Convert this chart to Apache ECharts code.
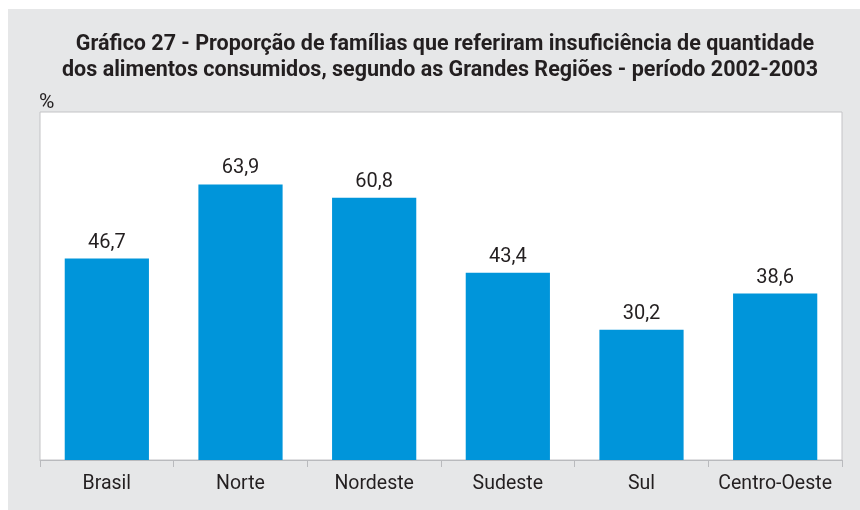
<!DOCTYPE html>
<html>
<head>
<meta charset="utf-8">
<script src="https://cdn.jsdelivr.net/npm/echarts@6/dist/echarts.min.js"></script>
<style>
html,body{margin:0;padding:0;background:#ffffff;}
#chart{width:860px;height:510px;}
</style>
</head>
<body>
<div id="chart"></div>
<script>
var titleLines = [
  'Gráfico 27 - Proporção de famílias que referiram insuficiência de quantidade',
  'dos alimentos consumidos, segundo as Grandes Regiões - período 2002-2003'
];
var unitLabel = '%';
var categories = ['Brasil', 'Norte', 'Nordeste', 'Sudeste', 'Sul', 'Centro-Oeste'];
var values = [46.7, 63.9, 60.8, 43.4, 30.2, 38.6];

var chart = echarts.init(document.getElementById('chart'), null, {renderer: 'canvas'});
var font = 'Roboto, "Liberation Sans", Arial, sans-serif';
chart.setOption({
  animation: false,
  backgroundColor: '#ffffff',
  graphic: [
    {type: 'rect', left: 8, top: 9, shape: {width: 852, height: 501}, style: {fill: '#e6e7e8'}, z: -10, silent: true},
    {type: 'text', x: 445, y: 44.5, style: {text: titleLines[0], font: 'bold 21.5px ' + font, fill: '#231f20', align: 'center', verticalAlign: 'middle'}},
    {type: 'text', x: 440, y: 70.5, style: {text: titleLines[1], font: 'bold 21.5px ' + font, fill: '#231f20', align: 'center', verticalAlign: 'middle'}},
    {type: 'text', x: 39, y: 103, style: {text: unitLabel, font: '21px ' + font, fill: '#231f20', verticalAlign: 'middle'}}
  ],
  grid: {left: 40, right: 18, top: 112, bottom: 50, show: true, backgroundColor: '#ffffff', borderColor: '#c3c3c6', borderWidth: 1},
  xAxis: {
    type: 'category',
    data: categories,
    axisLine: {show: true, lineStyle: {color: '#b9babd', width: 1}},
    axisTick: {show: true, interval: 0, length: 7, lineStyle: {color: '#b9babd'}},
    axisLabel: {interval: 0, hideOverlap: false, color: '#231f20', fontSize: 19.5, fontFamily: font, margin: 14}
  },
  yAxis: {
    type: 'value', min: 0, max: 80.7, show: false, splitLine: {show: false}
  },
  series: [{
    type: 'bar',
    data: values,
    barCategoryGap: '37%',
    itemStyle: {color: '#0095da'},
    label: {
      show: true, position: 'top', distance: 6, color: '#231f20', fontSize: 20, fontFamily: font,
      formatter: function (p) { return p.value.toFixed(1).replace('.', ','); }
    }
  }]
});
</script>
</body>
</html>
